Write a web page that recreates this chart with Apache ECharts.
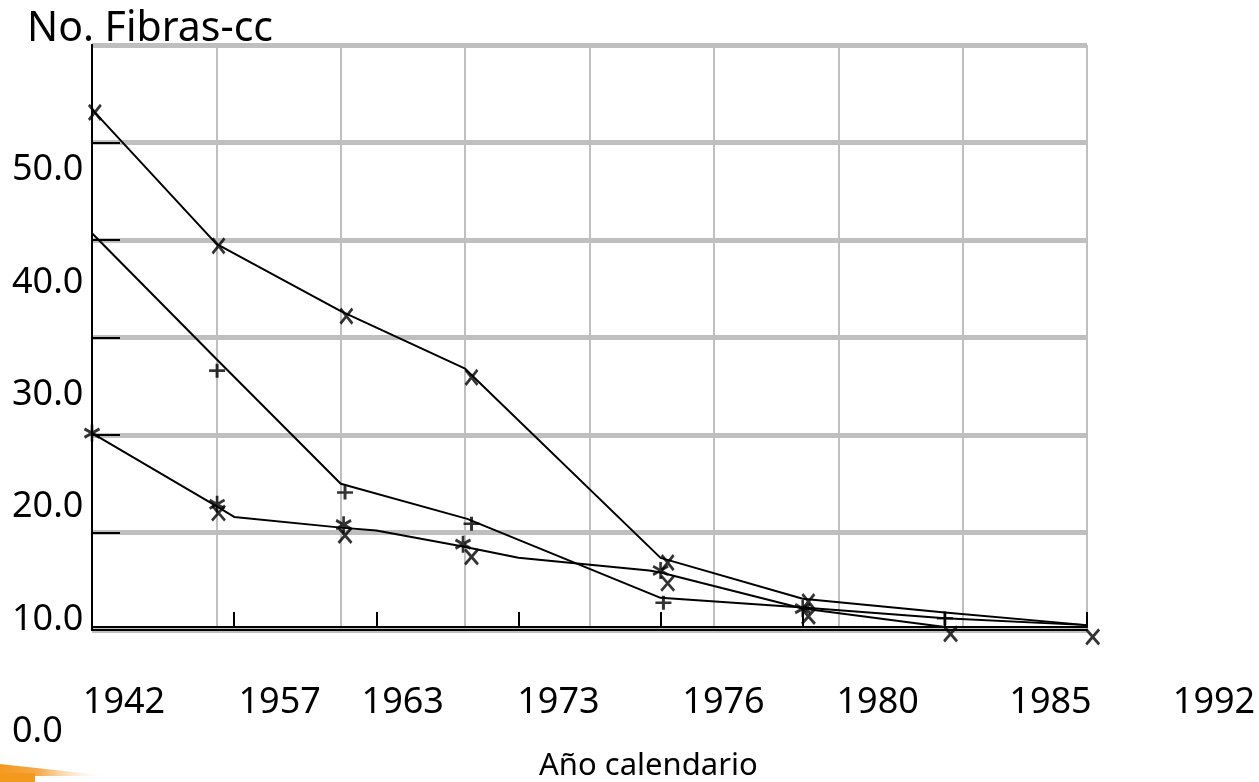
<!DOCTYPE html>
<html>
<head>
<meta charset="utf-8">
<style>
html,body{margin:0;padding:0;background:#fff;}
#chart{width:1259px;height:782px;}
</style>
<script src="https://cdn.jsdelivr.net/npm/echarts@6/dist/echarts.min.js"></script>
</head>
<body>
<div id="chart"></div>
<script>
// ---- data (x = position along the year axis, index units; y = No. Fibras-cc) ----
const years = ['1942', '1957', '1963', '1973', '1976', '1980', '1985', '1992'];
const yTickLabels = ['0.0', '10.0', '20.0', '30.0', '40.0', '50.0'];
// where each year label sits along its own label axis
const yearLabelPos = [0, 1.0, 1.79, 2.79, 3.85, 4.84, 5.95, 7];
// inner tick marks on the value axis
const yTickValues = [10, 20, 30, 40, 50];

// line vertices
const lineX1 = [0, 0.875, 1.75, 2.625, 4, 5, 6, 7];
const lineY1 = [53.4, 39.6, 32.7, 26.8, 7.4, 3.2, 1.8, 0.5];
const lineX2 = [0, 0.875, 1.75, 2.64, 4, 5, 6, 7];
const lineY2 = [40.7, 27.8, 15.0, 11.4, 3.3, 2.3, 1.2, 0.5];
const lineX3 = [0, 0.875, 1, 1.75, 2, 2.6, 3, 3.92, 4, 5, 6, 7];
const lineY3 = [20.2, 12.7, 11.6, 10.5, 10.2, 8.6, 7.4, 6.1, 5.9, 2.2, 0.3, 0.3];

// point markers
const markX1 = [0.02, 0.89, 1.79, 2.67, 4.05, 5.04];
const markY1 = [53.1, 39.4, 32.2, 25.9, 6.9, 2.9];
const markX2 = [0.88, 1.78, 2.67, 4.02, 6.0];
const markY2 = [26.6, 14.1, 10.9, 2.8, 1.2];
const markX3 = [0, 0.88, 1.77, 2.61, 4.0, 5.0];
const markY3 = [20.2, 12.9, 10.8, 8.8, 6.1, 2.2];
const markX4 = [0.89, 1.78, 2.67, 4.05, 5.04, 6.04, 7.04];
const markY4 = [12.0, 9.7, 7.5, 4.8, 1.4, -0.4, -0.7];

const zip = (xs, ys) => xs.map((x, i) => [x, ys[i]]);

const FONT = 'Noto Sans';
const BLACK = '#000';
const GRAY = '#bfbfbf';

const symX = 'path://M0,0L10,12M10,0L0,12';
const symPlus = 'path://M5,0L5,10M0,5L10,5';
const symStar = 'path://M5,0L5,12M0.5,3L9.5,9M0.5,9L9.5,3';

function lineSeries(xs, ys) {
  return {
    type: 'line', xAxisIndex: 0, yAxisIndex: 0,
    data: zip(xs, ys), symbol: 'none', clip: false,
    lineStyle: { color: BLACK, width: 2 }, z: 3
  };
}
function markSeries(xs, ys, sym, size) {
  return {
    type: 'scatter', xAxisIndex: 0, yAxisIndex: 0,
    data: zip(xs, ys), symbol: sym, symbolSize: size, clip: false,
    itemStyle: { color: 'rgba(0,0,0,0)', borderColor: BLACK, borderWidth: 2.8 }, z: 4
  };
}

const chart = echarts.init(document.getElementById('chart'), null, { renderer: 'canvas' });
const option = {
  animation: false,
  backgroundColor: '#fff',
  title: [
    { text: 'No. Fibras-cc', left: 27, top: 9, padding: 0,
      textStyle: { fontFamily: FONT, fontSize: 41, fontWeight: 'normal', color: BLACK } },
    { text: 'Año calendario', left: 539, top: 751, padding: 0,
      textStyle: { fontFamily: FONT, fontSize: 31, fontWeight: 'normal', color: BLACK } }
  ],
  grid: [
    { left: 92, right: 172, top: 45, bottom: 152 },      // plot
    { left: 92, right: 172, top: 170, bottom: 50 },      // y tick labels
    { left: 124, right: 45, top: 600, bottom: 79 }       // year labels
  ],
  xAxis: [
    { gridIndex: 0, type: 'value', min: 0, max: 7, interval: 0.875, position: 'bottom', offset: -3,
      axisLine: { show: true, lineStyle: { color: BLACK, width: 2 } },
      axisTick: { show: false }, axisLabel: { show: false },
      splitLine: { show: true, lineStyle: { color: GRAY, width: 2 } } },
    { gridIndex: 0, type: 'value', min: 0, max: 7, interval: 1, position: 'bottom', offset: -3,
      axisLine: { show: false },
      axisTick: { show: true, inside: true, length: 15, lineStyle: { color: BLACK, width: 2 } },
      axisLabel: { show: false }, splitLine: { show: false } },
    { gridIndex: 0, type: 'value', min: 0, max: 7, position: 'top', offset: 4,
      axisLine: { show: true, lineStyle: { color: BLACK, width: 2 } },
      axisTick: { show: false }, axisLabel: { show: false }, splitLine: { show: false } },
    { gridIndex: 1, type: 'value', min: 0, max: 1, show: false },
    { gridIndex: 2, type: 'value', min: 0, max: 7, position: 'bottom',
      axisLine: { show: false }, axisTick: { show: false }, splitLine: { show: false },
      axisLabel: {
        show: true, margin: 0, verticalAlign: 'middle',
        customValues: yearLabelPos,
        fontFamily: FONT, fontSize: 36, color: BLACK,
        formatter: function (v) {
          const i = yearLabelPos.findIndex(p => Math.abs(p - v) < 1e-6);
          return i >= 0 ? years[i] : '';
        }
      } }
  ],
  yAxis: [
    { gridIndex: 0, type: 'value', min: 0, max: 60, interval: 10, position: 'left',
      axisLine: { show: true, lineStyle: { color: BLACK, width: 2 } },
      axisTick: { show: false },
      axisLabel: { show: false },
      splitLine: { show: true, lineStyle: { color: GRAY, width: 5 } } },
    { gridIndex: 0, type: 'value', min: 0, max: 60, position: 'right',
      axisLine: { show: true, lineStyle: { color: BLACK, width: 2 } },
      axisTick: { show: false }, axisLabel: { show: false }, splitLine: { show: false } },
    { gridIndex: 1, type: 'value', min: 0, max: 50, interval: 10, position: 'left',
      axisLine: { show: false }, axisTick: { show: false }, splitLine: { show: false },
      axisLabel: {
        show: true, align: 'left', margin: 80, verticalAlign: 'middle',
        showMinLabel: true, showMaxLabel: true,
        fontFamily: FONT, fontSize: 36, color: BLACK,
        formatter: function (v) { return yTickLabels[Math.round(v / 10)]; }
      } },
    { gridIndex: 2, type: 'value', min: 0, max: 1, show: false },
    { gridIndex: 0, type: 'value', min: 0, max: 60, position: 'left',
      axisLine: { show: false },
      axisTick: { show: true, inside: true, length: 28, customValues: yTickValues,
        lineStyle: { color: BLACK, width: 2 } },
      axisLabel: { show: false }, splitLine: { show: false } }
  ],
  series: [
    lineSeries(lineX1, lineY1),
    lineSeries(lineX2, lineY2),
    lineSeries(lineX3, lineY3),
    markSeries(markX1, markY1, symX, [12, 15]),
    markSeries(markX2, markY2, symPlus, [16, 14]),
    markSeries(markX3, markY3, symStar, [15, 17]),
    markSeries(markX4, markY4, symX, [13, 15])
  ],
  graphic: [
    { type: 'polygon', silent: true, z: 10,
      shape: { points: [[0, 764], [110, 776], [0, 776]] },
      style: { fill: new echarts.graphic.LinearGradient(0, 0, 1, 0, [
        { offset: 0, color: '#F39A1E' }, { offset: 0.35, color: '#F5A94A' }, { offset: 1, color: 'rgba(255,255,255,0)' }]) } },
    { type: 'rect', silent: true, z: 10,
      shape: { x: 0, y: 773, width: 35, height: 9 },
      style: { fill: '#F39A1E' } }
  ]
};
chart.setOption(option);
</script>
</body>
</html>
